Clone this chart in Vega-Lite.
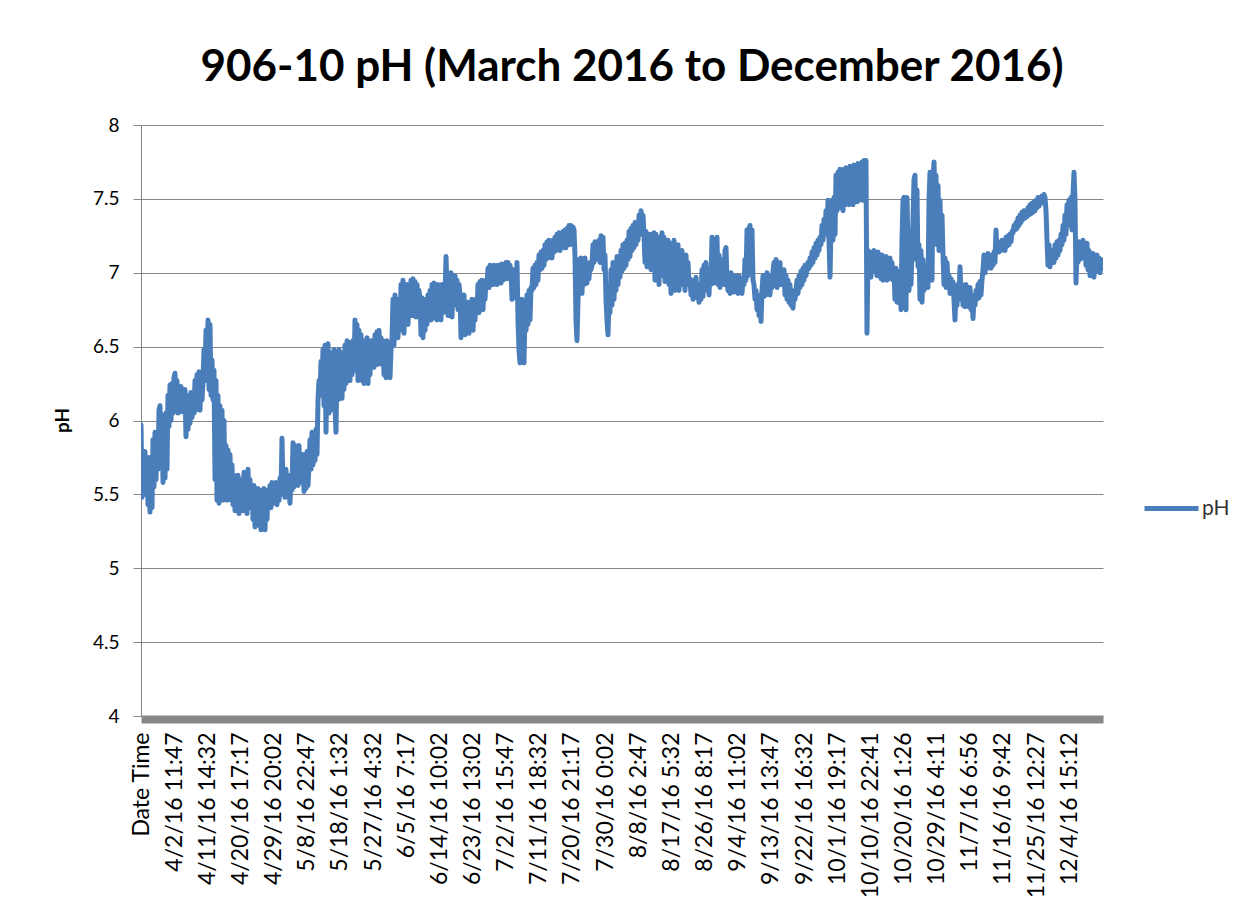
{
"$schema": "https://vega.github.io/schema/vega-lite/v6.json",
"width": 962, "height": 591,
"autosize": {"type": "none"},
"padding": {"left": 141, "top": 125, "right": 141, "bottom": 198},
"background": "white",
"title": {"text": "906-10 pH (March 2016 to December 2016)", "font": "Lato", "fontSize": 44, "fontWeight": "bold", "color": "black", "frame": "group", "anchor": "middle", "dx": 10, "offset": 26},
"data": {"values": [
{"n":0,"pH":5.97},{"n":1,"pH":5.48},{"n":2,"pH":5.77},{"n":3,"pH":5.50},{"n":4,"pH":5.79},{"n":5,"pH":5.53},{"n":6,"pH":5.73},{"n":7,"pH":5.43},{"n":8,"pH":5.75},{"n":9,"pH":5.38},
{"n":10,"pH":5.70},{"n":11,"pH":5.41},{"n":12,"pH":5.87},{"n":13,"pH":5.55},{"n":14,"pH":5.92},{"n":15,"pH":5.60},{"n":16,"pH":5.89},{"n":17,"pH":5.67},{"n":18,"pH":6.07},{"n":19,"pH":6.10},
{"n":20,"pH":5.70},{"n":21,"pH":6.04},{"n":22,"pH":5.58},{"n":23,"pH":6.02},{"n":24,"pH":5.61},{"n":25,"pH":6.05},{"n":26,"pH":5.67},{"n":27,"pH":6.17},{"n":28,"pH":5.96},{"n":29,"pH":6.24},
{"n":30,"pH":6.00},{"n":31,"pH":6.25},{"n":32,"pH":6.05},{"n":33,"pH":6.29},{"n":34,"pH":6.32},{"n":35,"pH":6.07},{"n":36,"pH":6.27},{"n":37,"pH":6.05},{"n":38,"pH":6.21},{"n":39,"pH":6.07},
{"n":40,"pH":6.23},{"n":41,"pH":6.06},{"n":42,"pH":6.17},{"n":43,"pH":6.07},{"n":44,"pH":6.21},{"n":45,"pH":5.89},{"n":46,"pH":6.14},{"n":47,"pH":5.94},{"n":48,"pH":6.17},{"n":49,"pH":5.98},
{"n":50,"pH":6.19},{"n":51,"pH":6.02},{"n":52,"pH":6.15},{"n":53,"pH":6.05},{"n":54,"pH":6.27},{"n":55,"pH":6.07},{"n":56,"pH":6.31},{"n":57,"pH":6.10},{"n":58,"pH":6.33},{"n":59,"pH":6.07},
{"n":60,"pH":6.29},{"n":61,"pH":6.14},{"n":62,"pH":6.27},{"n":63,"pH":6.48},{"n":64,"pH":6.27},{"n":65,"pH":6.61},{"n":66,"pH":6.41},{"n":67,"pH":6.68},{"n":68,"pH":6.21},{"n":69,"pH":6.65},
{"n":70,"pH":6.17},{"n":71,"pH":6.41},{"n":72,"pH":6.14},{"n":73,"pH":6.34},{"n":74,"pH":5.60},{"n":75,"pH":6.27},{"n":76,"pH":5.46},{"n":77,"pH":6.17},{"n":78,"pH":5.44},{"n":79,"pH":6.10},
{"n":80,"pH":5.50},{"n":81,"pH":6.07},{"n":82,"pH":5.46},{"n":83,"pH":6.00},{"n":84,"pH":5.53},{"n":85,"pH":5.83},{"n":86,"pH":5.46},{"n":87,"pH":5.80},{"n":88,"pH":5.50},{"n":89,"pH":5.77},
{"n":90,"pH":5.46},{"n":91,"pH":5.70},{"n":92,"pH":5.43},{"n":93,"pH":5.63},{"n":94,"pH":5.39},{"n":95,"pH":5.61},{"n":96,"pH":5.43},{"n":97,"pH":5.63},{"n":98,"pH":5.37},{"n":99,"pH":5.60},
{"n":100,"pH":5.43},{"n":101,"pH":5.56},{"n":102,"pH":5.39},{"n":103,"pH":5.65},{"n":104,"pH":5.43},{"n":105,"pH":5.61},{"n":106,"pH":5.37},{"n":107,"pH":5.67},{"n":108,"pH":5.41},{"n":109,"pH":5.60},
{"n":110,"pH":5.44},{"n":111,"pH":5.56},{"n":112,"pH":5.33},{"n":113,"pH":5.56},{"n":114,"pH":5.28},{"n":115,"pH":5.53},{"n":116,"pH":5.33},{"n":117,"pH":5.54},{"n":118,"pH":5.29},{"n":119,"pH":5.53},
{"n":120,"pH":5.26},{"n":121,"pH":5.52},{"n":122,"pH":5.36},{"n":123,"pH":5.54},{"n":124,"pH":5.26},{"n":125,"pH":5.50},{"n":126,"pH":5.33},{"n":127,"pH":5.53},{"n":128,"pH":5.43},{"n":129,"pH":5.56},
{"n":130,"pH":5.41},{"n":131,"pH":5.58},{"n":132,"pH":5.44},{"n":133,"pH":5.55},{"n":134,"pH":5.46},{"n":135,"pH":5.58},{"n":136,"pH":5.43},{"n":137,"pH":5.56},{"n":138,"pH":5.46},{"n":139,"pH":5.61},
{"n":140,"pH":5.50},{"n":141,"pH":5.88},{"n":142,"pH":5.53},{"n":143,"pH":5.65},{"n":144,"pH":5.48},{"n":145,"pH":5.67},{"n":146,"pH":5.50},{"n":147,"pH":5.63},{"n":148,"pH":5.52},{"n":149,"pH":5.44},
{"n":150,"pH":5.63},{"n":151,"pH":5.53},{"n":152,"pH":5.85},{"n":153,"pH":5.55},{"n":154,"pH":5.83},{"n":155,"pH":5.60},{"n":156,"pH":5.80},{"n":157,"pH":5.56},{"n":158,"pH":5.83},{"n":159,"pH":5.63},
{"n":160,"pH":5.77},{"n":161,"pH":5.58},{"n":162,"pH":5.77},{"n":163,"pH":5.52},{"n":164,"pH":5.75},{"n":165,"pH":5.54},{"n":166,"pH":5.79},{"n":167,"pH":5.56},{"n":168,"pH":5.70},{"n":169,"pH":5.87},
{"n":170,"pH":5.67},{"n":171,"pH":5.92},{"n":172,"pH":5.70},{"n":173,"pH":5.87},{"n":174,"pH":5.73},{"n":175,"pH":5.94},{"n":176,"pH":5.77},{"n":177,"pH":6.14},{"n":178,"pH":6.27},{"n":179,"pH":6.17},
{"n":180,"pH":6.40},{"n":181,"pH":6.21},{"n":182,"pH":6.48},{"n":183,"pH":6.10},{"n":184,"pH":6.51},{"n":185,"pH":5.92},{"n":186,"pH":6.41},{"n":187,"pH":6.52},{"n":188,"pH":6.05},{"n":189,"pH":6.46},
{"n":190,"pH":6.07},{"n":191,"pH":6.44},{"n":192,"pH":6.14},{"n":193,"pH":6.48},{"n":194,"pH":6.10},{"n":195,"pH":5.92},{"n":196,"pH":6.41},{"n":197,"pH":6.14},{"n":198,"pH":6.48},{"n":199,"pH":6.17},
{"n":200,"pH":6.44},{"n":201,"pH":6.15},{"n":202,"pH":6.46},{"n":203,"pH":6.21},{"n":204,"pH":6.51},{"n":205,"pH":6.25},{"n":206,"pH":6.54},{"n":207,"pH":6.29},{"n":208,"pH":6.51},{"n":209,"pH":6.27},
{"n":210,"pH":6.53},{"n":211,"pH":6.31},{"n":212,"pH":6.54},{"n":213,"pH":6.34},{"n":214,"pH":6.68},{"n":215,"pH":6.34},{"n":216,"pH":6.65},{"n":217,"pH":6.27},{"n":218,"pH":6.61},{"n":219,"pH":6.31},
{"n":220,"pH":6.58},{"n":221,"pH":6.27},{"n":222,"pH":6.54},{"n":223,"pH":6.25},{"n":224,"pH":6.51},{"n":225,"pH":6.31},{"n":226,"pH":6.56},{"n":227,"pH":6.25},{"n":228,"pH":6.51},{"n":229,"pH":6.31},
{"n":230,"pH":6.54},{"n":231,"pH":6.38},{"n":232,"pH":6.54},{"n":233,"pH":6.36},{"n":234,"pH":6.58},{"n":235,"pH":6.41},{"n":236,"pH":6.60},{"n":237,"pH":6.38},{"n":238,"pH":6.61},{"n":239,"pH":6.41},
{"n":240,"pH":6.56},{"n":241,"pH":6.38},{"n":242,"pH":6.54},{"n":243,"pH":6.31},{"n":244,"pH":6.51},{"n":245,"pH":6.29},{"n":246,"pH":6.54},{"n":247,"pH":6.34},{"n":248,"pH":6.51},{"n":249,"pH":6.29},
{"n":250,"pH":6.48},{"n":251,"pH":6.54},{"n":252,"pH":6.82},{"n":253,"pH":6.51},{"n":254,"pH":6.85},{"n":255,"pH":6.58},{"n":256,"pH":6.82},{"n":257,"pH":6.56},{"n":258,"pH":6.78},{"n":259,"pH":6.61},
{"n":260,"pH":6.92},{"n":261,"pH":6.65},{"n":262,"pH":6.95},{"n":263,"pH":6.59},{"n":264,"pH":6.88},{"n":265,"pH":6.69},{"n":266,"pH":6.92},{"n":267,"pH":6.65},{"n":268,"pH":6.88},{"n":269,"pH":6.75},
{"n":270,"pH":6.95},{"n":271,"pH":6.71},{"n":272,"pH":6.96},{"n":273,"pH":6.82},{"n":274,"pH":6.94},{"n":275,"pH":6.70},{"n":276,"pH":6.92},{"n":277,"pH":6.78},{"n":278,"pH":6.88},{"n":279,"pH":6.82},
{"n":280,"pH":6.58},{"n":281,"pH":6.83},{"n":282,"pH":6.56},{"n":283,"pH":6.78},{"n":284,"pH":6.61},{"n":285,"pH":6.82},{"n":286,"pH":6.65},{"n":287,"pH":6.85},{"n":288,"pH":6.68},{"n":289,"pH":6.88},
{"n":290,"pH":6.68},{"n":291,"pH":6.92},{"n":292,"pH":6.69},{"n":293,"pH":6.93},{"n":294,"pH":6.71},{"n":295,"pH":6.90},{"n":296,"pH":6.68},{"n":297,"pH":6.92},{"n":298,"pH":6.71},{"n":299,"pH":6.88},
{"n":300,"pH":6.68},{"n":301,"pH":6.92},{"n":302,"pH":6.73},{"n":303,"pH":6.88},{"n":304,"pH":6.82},{"n":305,"pH":7.11},{"n":306,"pH":6.88},{"n":307,"pH":6.71},{"n":308,"pH":6.98},{"n":309,"pH":6.75},
{"n":310,"pH":7.00},{"n":311,"pH":6.70},{"n":312,"pH":6.95},{"n":313,"pH":6.78},{"n":314,"pH":6.98},{"n":315,"pH":6.82},{"n":316,"pH":6.95},{"n":317,"pH":6.75},{"n":318,"pH":6.92},{"n":319,"pH":6.85},
{"n":320,"pH":6.56},{"n":321,"pH":6.82},{"n":322,"pH":6.61},{"n":323,"pH":6.85},{"n":324,"pH":6.58},{"n":325,"pH":6.78},{"n":326,"pH":6.61},{"n":327,"pH":6.80},{"n":328,"pH":6.59},{"n":329,"pH":6.78},
{"n":330,"pH":6.65},{"n":331,"pH":6.82},{"n":332,"pH":6.61},{"n":333,"pH":6.76},{"n":334,"pH":6.68},{"n":335,"pH":6.82},{"n":336,"pH":6.75},{"n":337,"pH":6.92},{"n":338,"pH":6.73},{"n":339,"pH":6.94},
{"n":340,"pH":6.78},{"n":341,"pH":6.95},{"n":342,"pH":6.75},{"n":343,"pH":6.92},{"n":344,"pH":6.82},{"n":345,"pH":6.95},{"n":346,"pH":6.92},{"n":347,"pH":7.03},{"n":348,"pH":6.90},{"n":349,"pH":7.05},
{"n":350,"pH":6.93},{"n":351,"pH":7.03},{"n":352,"pH":6.92},{"n":353,"pH":7.05},{"n":354,"pH":6.94},{"n":355,"pH":7.04},{"n":356,"pH":6.92},{"n":357,"pH":7.05},{"n":358,"pH":6.95},{"n":359,"pH":7.05},
{"n":360,"pH":6.93},{"n":361,"pH":7.06},{"n":362,"pH":6.95},{"n":363,"pH":7.05},{"n":364,"pH":6.96},{"n":365,"pH":7.07},{"n":366,"pH":6.96},{"n":367,"pH":7.07},{"n":368,"pH":6.98},{"n":369,"pH":7.05},
{"n":370,"pH":7.01},{"n":371,"pH":6.82},{"n":372,"pH":7.02},{"n":373,"pH":6.83},{"n":374,"pH":6.98},{"n":375,"pH":6.88},{"n":376,"pH":7.07},{"n":377,"pH":6.68},{"n":378,"pH":6.48},{"n":379,"pH":6.39},
{"n":380,"pH":6.54},{"n":381,"pH":6.82},{"n":382,"pH":6.51},{"n":383,"pH":6.39},{"n":384,"pH":6.75},{"n":385,"pH":6.61},{"n":386,"pH":6.85},{"n":387,"pH":6.65},{"n":388,"pH":6.88},{"n":389,"pH":6.68},
{"n":390,"pH":6.90},{"n":391,"pH":6.88},{"n":392,"pH":7.03},{"n":393,"pH":6.90},{"n":394,"pH":7.05},{"n":395,"pH":6.92},{"n":396,"pH":7.07},{"n":397,"pH":6.95},{"n":398,"pH":7.12},{"n":399,"pH":7.02},
{"n":400,"pH":7.14},{"n":401,"pH":7.03},{"n":402,"pH":7.15},{"n":403,"pH":7.05},{"n":404,"pH":7.19},{"n":405,"pH":7.09},{"n":406,"pH":7.21},{"n":407,"pH":7.10},{"n":408,"pH":7.22},{"n":409,"pH":7.12},
{"n":410,"pH":7.20},{"n":411,"pH":7.10},{"n":412,"pH":7.22},{"n":413,"pH":7.14},{"n":414,"pH":7.24},{"n":415,"pH":7.15},{"n":416,"pH":7.26},{"n":417,"pH":7.17},{"n":418,"pH":7.27},{"n":419,"pH":7.15},
{"n":420,"pH":7.25},{"n":421,"pH":7.18},{"n":422,"pH":7.28},{"n":423,"pH":7.17},{"n":424,"pH":7.29},{"n":425,"pH":7.17},{"n":426,"pH":7.30},{"n":427,"pH":7.19},{"n":428,"pH":7.32},{"n":429,"pH":7.19},
{"n":430,"pH":7.32},{"n":431,"pH":7.22},{"n":432,"pH":7.31},{"n":433,"pH":7.29},{"n":434,"pH":7.11},{"n":435,"pH":6.68},{"n":436,"pH":6.54},{"n":437,"pH":6.82},{"n":438,"pH":7.09},{"n":439,"pH":6.88},
{"n":440,"pH":7.10},{"n":441,"pH":6.86},{"n":442,"pH":7.07},{"n":443,"pH":6.92},{"n":444,"pH":7.10},{"n":445,"pH":6.95},{"n":446,"pH":6.93},{"n":447,"pH":7.06},{"n":448,"pH":6.96},{"n":449,"pH":7.07},
{"n":450,"pH":7.02},{"n":451,"pH":7.05},{"n":452,"pH":7.19},{"n":453,"pH":7.07},{"n":454,"pH":7.21},{"n":455,"pH":7.09},{"n":456,"pH":7.19},{"n":457,"pH":7.10},{"n":458,"pH":7.22},{"n":459,"pH":7.07},
{"n":460,"pH":7.25},{"n":461,"pH":7.15},{"n":462,"pH":7.24},{"n":463,"pH":7.02},{"n":464,"pH":7.12},{"n":465,"pH":6.82},{"n":466,"pH":6.68},{"n":467,"pH":6.58},{"n":468,"pH":6.82},{"n":469,"pH":6.73},
{"n":470,"pH":7.02},{"n":471,"pH":6.78},{"n":472,"pH":7.07},{"n":473,"pH":6.82},{"n":474,"pH":7.05},{"n":475,"pH":6.88},{"n":476,"pH":7.11},{"n":477,"pH":6.92},{"n":478,"pH":7.09},{"n":479,"pH":6.97},
{"n":480,"pH":7.15},{"n":481,"pH":7.01},{"n":482,"pH":7.19},{"n":483,"pH":7.03},{"n":484,"pH":7.20},{"n":485,"pH":7.05},{"n":486,"pH":7.22},{"n":487,"pH":7.09},{"n":488,"pH":7.28},{"n":489,"pH":7.11},
{"n":490,"pH":7.30},{"n":491,"pH":7.15},{"n":492,"pH":7.32},{"n":493,"pH":7.17},{"n":494,"pH":7.34},{"n":495,"pH":7.19},{"n":496,"pH":7.32},{"n":497,"pH":7.22},{"n":498,"pH":7.39},{"n":499,"pH":7.26},
{"n":500,"pH":7.42},{"n":501,"pH":7.29},{"n":502,"pH":7.39},{"n":503,"pH":7.26},{"n":504,"pH":7.07},{"n":505,"pH":7.28},{"n":506,"pH":7.04},{"n":507,"pH":7.22},{"n":508,"pH":7.05},{"n":509,"pH":7.26},
{"n":510,"pH":7.02},{"n":511,"pH":7.24},{"n":512,"pH":7.07},{"n":513,"pH":7.27},{"n":514,"pH":6.95},{"n":515,"pH":7.26},{"n":516,"pH":7.02},{"n":517,"pH":7.22},{"n":518,"pH":6.92},{"n":519,"pH":7.24},
{"n":520,"pH":6.98},{"n":521,"pH":7.27},{"n":522,"pH":7.05},{"n":523,"pH":7.24},{"n":524,"pH":6.94},{"n":525,"pH":7.19},{"n":526,"pH":7.02},{"n":527,"pH":7.22},{"n":528,"pH":6.92},{"n":529,"pH":7.20},
{"n":530,"pH":6.86},{"n":531,"pH":7.17},{"n":532,"pH":6.95},{"n":533,"pH":7.22},{"n":534,"pH":6.88},{"n":535,"pH":7.15},{"n":536,"pH":6.98},{"n":537,"pH":7.19},{"n":538,"pH":6.88},{"n":539,"pH":7.12},
{"n":540,"pH":6.92},{"n":541,"pH":7.15},{"n":542,"pH":6.95},{"n":543,"pH":7.10},{"n":544,"pH":6.88},{"n":545,"pH":7.12},{"n":546,"pH":6.96},{"n":547,"pH":7.07},{"n":548,"pH":6.92},{"n":549,"pH":6.96},
{"n":550,"pH":6.85},{"n":551,"pH":6.95},{"n":552,"pH":6.82},{"n":553,"pH":6.94},{"n":554,"pH":6.85},{"n":555,"pH":6.97},{"n":556,"pH":6.83},{"n":557,"pH":6.92},{"n":558,"pH":6.80},{"n":559,"pH":6.90},
{"n":560,"pH":6.82},{"n":561,"pH":7.02},{"n":562,"pH":6.84},{"n":563,"pH":7.05},{"n":564,"pH":6.88},{"n":565,"pH":7.07},{"n":566,"pH":6.90},{"n":567,"pH":7.02},{"n":568,"pH":6.85},{"n":569,"pH":7.03},
{"n":570,"pH":6.92},{"n":571,"pH":7.24},{"n":572,"pH":7.09},{"n":573,"pH":6.93},{"n":574,"pH":7.22},{"n":575,"pH":6.95},{"n":576,"pH":7.24},{"n":577,"pH":6.92},{"n":578,"pH":7.12},{"n":579,"pH":6.90},
{"n":580,"pH":7.09},{"n":581,"pH":6.93},{"n":582,"pH":7.05},{"n":583,"pH":6.92},{"n":584,"pH":7.15},{"n":585,"pH":7.17},{"n":586,"pH":6.95},{"n":587,"pH":6.88},{"n":588,"pH":6.98},{"n":589,"pH":6.86},
{"n":590,"pH":7.00},{"n":591,"pH":6.88},{"n":592,"pH":6.97},{"n":593,"pH":6.87},{"n":594,"pH":6.98},{"n":595,"pH":6.90},{"n":596,"pH":6.96},{"n":597,"pH":6.86},{"n":598,"pH":6.98},{"n":599,"pH":6.88},
{"n":600,"pH":6.95},{"n":601,"pH":6.86},{"n":602,"pH":6.96},{"n":603,"pH":6.92},{"n":604,"pH":7.09},{"n":605,"pH":6.95},{"n":606,"pH":7.29},{"n":607,"pH":6.98},{"n":608,"pH":7.30},{"n":609,"pH":7.32},
{"n":610,"pH":7.02},{"n":611,"pH":7.29},{"n":612,"pH":6.95},{"n":613,"pH":6.92},{"n":614,"pH":6.82},{"n":615,"pH":6.88},{"n":616,"pH":6.75},{"n":617,"pH":6.85},{"n":618,"pH":6.71},{"n":619,"pH":6.82},
{"n":620,"pH":6.67},{"n":621,"pH":6.88},{"n":622,"pH":6.98},{"n":623,"pH":6.84},{"n":624,"pH":6.95},{"n":625,"pH":6.85},{"n":626,"pH":7.00},{"n":627,"pH":6.88},{"n":628,"pH":6.96},{"n":629,"pH":6.85},
{"n":630,"pH":6.98},{"n":631,"pH":6.90},{"n":632,"pH":7.01},{"n":633,"pH":7.07},{"n":634,"pH":6.92},{"n":635,"pH":7.09},{"n":636,"pH":6.90},{"n":637,"pH":7.05},{"n":638,"pH":6.95},{"n":639,"pH":7.07},
{"n":640,"pH":6.92},{"n":641,"pH":7.02},{"n":642,"pH":6.93},{"n":643,"pH":7.02},{"n":644,"pH":6.85},{"n":645,"pH":6.98},{"n":646,"pH":6.82},{"n":647,"pH":6.95},{"n":648,"pH":6.80},{"n":649,"pH":6.92},
{"n":650,"pH":6.78},{"n":651,"pH":6.88},{"n":652,"pH":6.76},{"n":653,"pH":6.87},{"n":654,"pH":6.82},{"n":655,"pH":6.88},{"n":656,"pH":6.95},{"n":657,"pH":6.86},{"n":658,"pH":6.98},{"n":659,"pH":6.90},
{"n":660,"pH":7.01},{"n":661,"pH":6.92},{"n":662,"pH":7.03},{"n":663,"pH":6.95},{"n":664,"pH":7.05},{"n":665,"pH":6.98},{"n":666,"pH":7.02},{"n":667,"pH":7.07},{"n":668,"pH":7.03},{"n":669,"pH":7.10},
{"n":670,"pH":7.05},{"n":671,"pH":7.14},{"n":672,"pH":7.07},{"n":673,"pH":7.17},{"n":674,"pH":7.10},{"n":675,"pH":7.20},{"n":676,"pH":7.12},{"n":677,"pH":7.22},{"n":678,"pH":7.15},{"n":679,"pH":7.24},
{"n":680,"pH":7.19},{"n":681,"pH":7.32},{"n":682,"pH":7.22},{"n":683,"pH":7.36},{"n":684,"pH":7.26},{"n":685,"pH":7.42},{"n":686,"pH":7.29},{"n":687,"pH":7.49},{"n":688,"pH":7.22},{"n":689,"pH":6.97},
{"n":690,"pH":7.29},{"n":691,"pH":7.49},{"n":692,"pH":7.22},{"n":693,"pH":7.51},{"n":694,"pH":7.26},{"n":695,"pH":7.66},{"n":696,"pH":7.42},{"n":697,"pH":7.68},{"n":698,"pH":7.44},{"n":699,"pH":7.70},
{"n":700,"pH":7.46},{"n":701,"pH":7.68},{"n":702,"pH":7.42},{"n":703,"pH":7.70},{"n":704,"pH":7.46},{"n":705,"pH":7.71},{"n":706,"pH":7.47},{"n":707,"pH":7.70},{"n":708,"pH":7.46},{"n":709,"pH":7.72},
{"n":710,"pH":7.48},{"n":711,"pH":7.71},{"n":712,"pH":7.46},{"n":713,"pH":7.73},{"n":714,"pH":7.49},{"n":715,"pH":7.72},{"n":716,"pH":7.48},{"n":717,"pH":7.74},{"n":718,"pH":7.49},{"n":719,"pH":7.73},
{"n":720,"pH":7.51},{"n":721,"pH":7.75},{"n":722,"pH":7.49},{"n":723,"pH":7.76},{"n":724,"pH":7.53},{"n":725,"pH":7.76},{"n":726,"pH":6.59},{"n":727,"pH":7.15},{"n":728,"pH":6.98},{"n":729,"pH":7.12},
{"n":730,"pH":6.97},{"n":731,"pH":7.14},{"n":732,"pH":7.02},{"n":733,"pH":7.15},{"n":734,"pH":7.01},{"n":735,"pH":7.12},{"n":736,"pH":6.98},{"n":737,"pH":7.14},{"n":738,"pH":7.03},{"n":739,"pH":7.12},
{"n":740,"pH":6.96},{"n":741,"pH":7.12},{"n":742,"pH":6.95},{"n":743,"pH":7.10},{"n":744,"pH":6.98},{"n":745,"pH":7.11},{"n":746,"pH":6.95},{"n":747,"pH":7.09},{"n":748,"pH":6.96},{"n":749,"pH":7.10},
{"n":750,"pH":6.98},{"n":751,"pH":7.07},{"n":752,"pH":6.95},{"n":753,"pH":7.02},{"n":754,"pH":6.82},{"n":755,"pH":7.03},{"n":756,"pH":6.80},{"n":757,"pH":7.01},{"n":758,"pH":6.85},{"n":759,"pH":6.98},
{"n":760,"pH":6.75},{"n":761,"pH":7.22},{"n":762,"pH":7.49},{"n":763,"pH":7.51},{"n":764,"pH":6.82},{"n":765,"pH":6.75},{"n":766,"pH":7.51},{"n":767,"pH":7.15},{"n":768,"pH":6.88},{"n":769,"pH":7.19},
{"n":770,"pH":6.92},{"n":771,"pH":7.15},{"n":772,"pH":7.36},{"n":773,"pH":7.63},{"n":774,"pH":7.66},{"n":775,"pH":7.09},{"n":776,"pH":7.56},{"n":777,"pH":7.04},{"n":778,"pH":7.19},{"n":779,"pH":6.82},
{"n":780,"pH":7.15},{"n":781,"pH":6.80},{"n":782,"pH":7.09},{"n":783,"pH":6.88},{"n":784,"pH":7.03},{"n":785,"pH":6.90},{"n":786,"pH":7.02},{"n":787,"pH":6.90},{"n":788,"pH":7.49},{"n":789,"pH":7.68},
{"n":790,"pH":7.15},{"n":791,"pH":6.95},{"n":792,"pH":7.63},{"n":793,"pH":7.75},{"n":794,"pH":7.49},{"n":795,"pH":7.66},{"n":796,"pH":7.19},{"n":797,"pH":7.59},{"n":798,"pH":7.15},{"n":799,"pH":7.49},
{"n":800,"pH":7.19},{"n":801,"pH":7.39},{"n":802,"pH":7.12},{"n":803,"pH":6.92},{"n":804,"pH":7.10},{"n":805,"pH":6.90},{"n":806,"pH":7.07},{"n":807,"pH":6.93},{"n":808,"pH":6.98},{"n":809,"pH":6.86},
{"n":810,"pH":6.96},{"n":811,"pH":6.88},{"n":812,"pH":6.94},{"n":813,"pH":6.82},{"n":814,"pH":6.68},{"n":815,"pH":6.88},{"n":816,"pH":6.78},{"n":817,"pH":6.92},{"n":818,"pH":6.82},{"n":819,"pH":7.04},
{"n":820,"pH":6.85},{"n":821,"pH":6.92},{"n":822,"pH":6.78},{"n":823,"pH":6.90},{"n":824,"pH":6.77},{"n":825,"pH":6.92},{"n":826,"pH":6.82},{"n":827,"pH":6.88},{"n":828,"pH":6.77},{"n":829,"pH":6.90},
{"n":830,"pH":6.75},{"n":831,"pH":6.85},{"n":832,"pH":6.69},{"n":833,"pH":6.82},{"n":834,"pH":6.78},{"n":835,"pH":6.88},{"n":836,"pH":6.82},{"n":837,"pH":6.92},{"n":838,"pH":6.83},{"n":839,"pH":6.94},
{"n":840,"pH":6.85},{"n":841,"pH":6.95},{"n":842,"pH":7.02},{"n":843,"pH":7.12},{"n":844,"pH":7.00},{"n":845,"pH":7.10},{"n":846,"pH":7.03},{"n":847,"pH":7.13},{"n":848,"pH":7.05},{"n":849,"pH":7.12},
{"n":850,"pH":7.03},{"n":851,"pH":7.10},{"n":852,"pH":7.05},{"n":853,"pH":7.14},{"n":854,"pH":7.07},{"n":855,"pH":7.29},{"n":856,"pH":7.15},{"n":857,"pH":7.21},{"n":858,"pH":7.14},{"n":859,"pH":7.20},
{"n":860,"pH":7.15},{"n":861,"pH":7.22},{"n":862,"pH":7.17},{"n":863,"pH":7.21},{"n":864,"pH":7.15},{"n":865,"pH":7.24},{"n":866,"pH":7.18},{"n":867,"pH":7.25},{"n":868,"pH":7.19},{"n":869,"pH":7.26},
{"n":870,"pH":7.21},{"n":871,"pH":7.28},{"n":872,"pH":7.27},{"n":873,"pH":7.32},{"n":874,"pH":7.29},{"n":875,"pH":7.34},{"n":876,"pH":7.30},{"n":877,"pH":7.37},{"n":878,"pH":7.32},{"n":879,"pH":7.39},
{"n":880,"pH":7.34},{"n":881,"pH":7.41},{"n":882,"pH":7.36},{"n":883,"pH":7.42},{"n":884,"pH":7.37},{"n":885,"pH":7.42},{"n":886,"pH":7.38},{"n":887,"pH":7.44},{"n":888,"pH":7.39},{"n":889,"pH":7.46},
{"n":890,"pH":7.40},{"n":891,"pH":7.47},{"n":892,"pH":7.41},{"n":893,"pH":7.48},{"n":894,"pH":7.42},{"n":895,"pH":7.49},{"n":896,"pH":7.44},{"n":897,"pH":7.51},{"n":898,"pH":7.45},{"n":899,"pH":7.51},
{"n":900,"pH":7.47},{"n":901,"pH":7.52},{"n":902,"pH":7.49},{"n":903,"pH":7.53},{"n":904,"pH":7.51},{"n":905,"pH":7.42},{"n":906,"pH":7.22},{"n":907,"pH":7.05},{"n":908,"pH":7.19},{"n":909,"pH":7.04},
{"n":910,"pH":7.15},{"n":911,"pH":7.07},{"n":912,"pH":7.15},{"n":913,"pH":7.07},{"n":914,"pH":7.19},{"n":915,"pH":7.10},{"n":916,"pH":7.21},{"n":917,"pH":7.12},{"n":918,"pH":7.22},{"n":919,"pH":7.15},
{"n":920,"pH":7.26},{"n":921,"pH":7.19},{"n":922,"pH":7.32},{"n":923,"pH":7.22},{"n":924,"pH":7.39},{"n":925,"pH":7.26},{"n":926,"pH":7.46},{"n":927,"pH":7.32},{"n":928,"pH":7.49},{"n":929,"pH":7.39},
{"n":930,"pH":7.51},{"n":931,"pH":7.29},{"n":932,"pH":7.53},{"n":933,"pH":7.68},{"n":934,"pH":7.49},{"n":935,"pH":6.93},{"n":936,"pH":7.15},{"n":937,"pH":7.07},{"n":938,"pH":7.21},{"n":939,"pH":7.09},
{"n":940,"pH":7.19},{"n":941,"pH":7.10},{"n":942,"pH":7.22},{"n":943,"pH":7.12},{"n":944,"pH":7.19},{"n":945,"pH":7.05},{"n":946,"pH":7.20},{"n":947,"pH":7.02},{"n":948,"pH":7.15},{"n":949,"pH":6.98},
{"n":950,"pH":7.12},{"n":951,"pH":7.02},{"n":952,"pH":7.13},{"n":953,"pH":6.97},{"n":954,"pH":7.10},{"n":955,"pH":7.01},{"n":956,"pH":7.12},{"n":957,"pH":7.02},{"n":958,"pH":7.10},{"n":959,"pH":7.00},
{"n":960,"pH":7.09},{"n":961,"pH":7.03},{"n":962,"pH":7.07}
]},
"mark": {"type": "line", "strokeWidth": 5, "strokeJoin": "round", "strokeCap": "round", "clip": true},
"encoding": {
  "x": {"field": "n", "type": "quantitative", "scale": {"domain": [0, 962], "nice": false, "zero": false},
    "axis": {"values": [0,33.15,66.3,99.45,132.6,165.75,198.9,232.05,265.2,298.35,331.5,364.65,397.8,430.95,464.1,497.25,530.4,563.55,596.7,629.85,663,696.15,729.3,762.45,795.6,828.75,861.9,895.05,928.2],
      "labelExpr": "['Date Time','4/2/16 11:47','4/11/16 14:32','4/20/16 17:17','4/29/16 20:02','5/8/16 22:47','5/18/16 1:32','5/27/16 4:32','6/5/16 7:17','6/14/16 10:02','6/23/16 13:02','7/2/16 15:47','7/11/16 18:32','7/20/16 21:17','7/30/16 0:02','8/8/16 2:47','8/17/16 5:32','8/26/16 8:17','9/4/16 11:02','9/13/16 13:47','9/22/16 16:32','10/1/16 19:17','10/10/16 22:41','10/20/16 1:26','10/29/16 4:11','11/7/16 6:56','11/16/16 9:42','11/25/16 12:27','12/4/16 15:12'][round(datum.value/33.15)]",
      "labelAngle": -90, "labelAlign": "right", "labelBaseline": "middle", "labelFont": "Lato", "labelFontSize": 23, "labelColor": "black",
      "labelPadding": 13, "labelOverlap": false, "labelFlush": false, "labelBound": false,
      "ticks": false, "grid": false, "domainColor": "#878787", "domainWidth": 8, "domainCap": "butt", "offset": 3, "title": null}},
  "y": {"field": "pH", "type": "quantitative", "scale": {"domain": [4, 8], "nice": false, "zero": false},
    "axis": {"values": [4,4.5,5,5.5,6,6.5,7,7.5,8], "format": "~g", "grid": true, "gridColor": "#868686", "gridWidth": 1,
      "domainColor": "#868686", "domainWidth": 1, "tickColor": "#868686", "tickSize": 8, "tickWidth": 1,
      "labelFont": "Lato", "labelFontSize": 19, "labelColor": "black", "labelPadding": 14,
      "title": "pH", "titleFont": "Lato", "titleFontSize": 19, "titleFontWeight": "bold", "titleColor": "black",
      "titleX": -79, "titleY": 295, "titleAngle": -90, "titleAlign": "center", "titleBaseline": "middle"}},
  "color": {"datum": "pH", "scale": {"range": ["#4A7EBB"]},
    "legend": {"orient": "none", "legendX": 1001, "legendY": 354, "title": null, "symbolType": "stroke", "symbolStrokeWidth": 5, "symbolSize": 2916,
      "labelFont": "Lato", "labelFontSize": 21, "labelColor": "#333333", "labelOffset": 1}}
},
"config": {"view": {"stroke": null}}
}
